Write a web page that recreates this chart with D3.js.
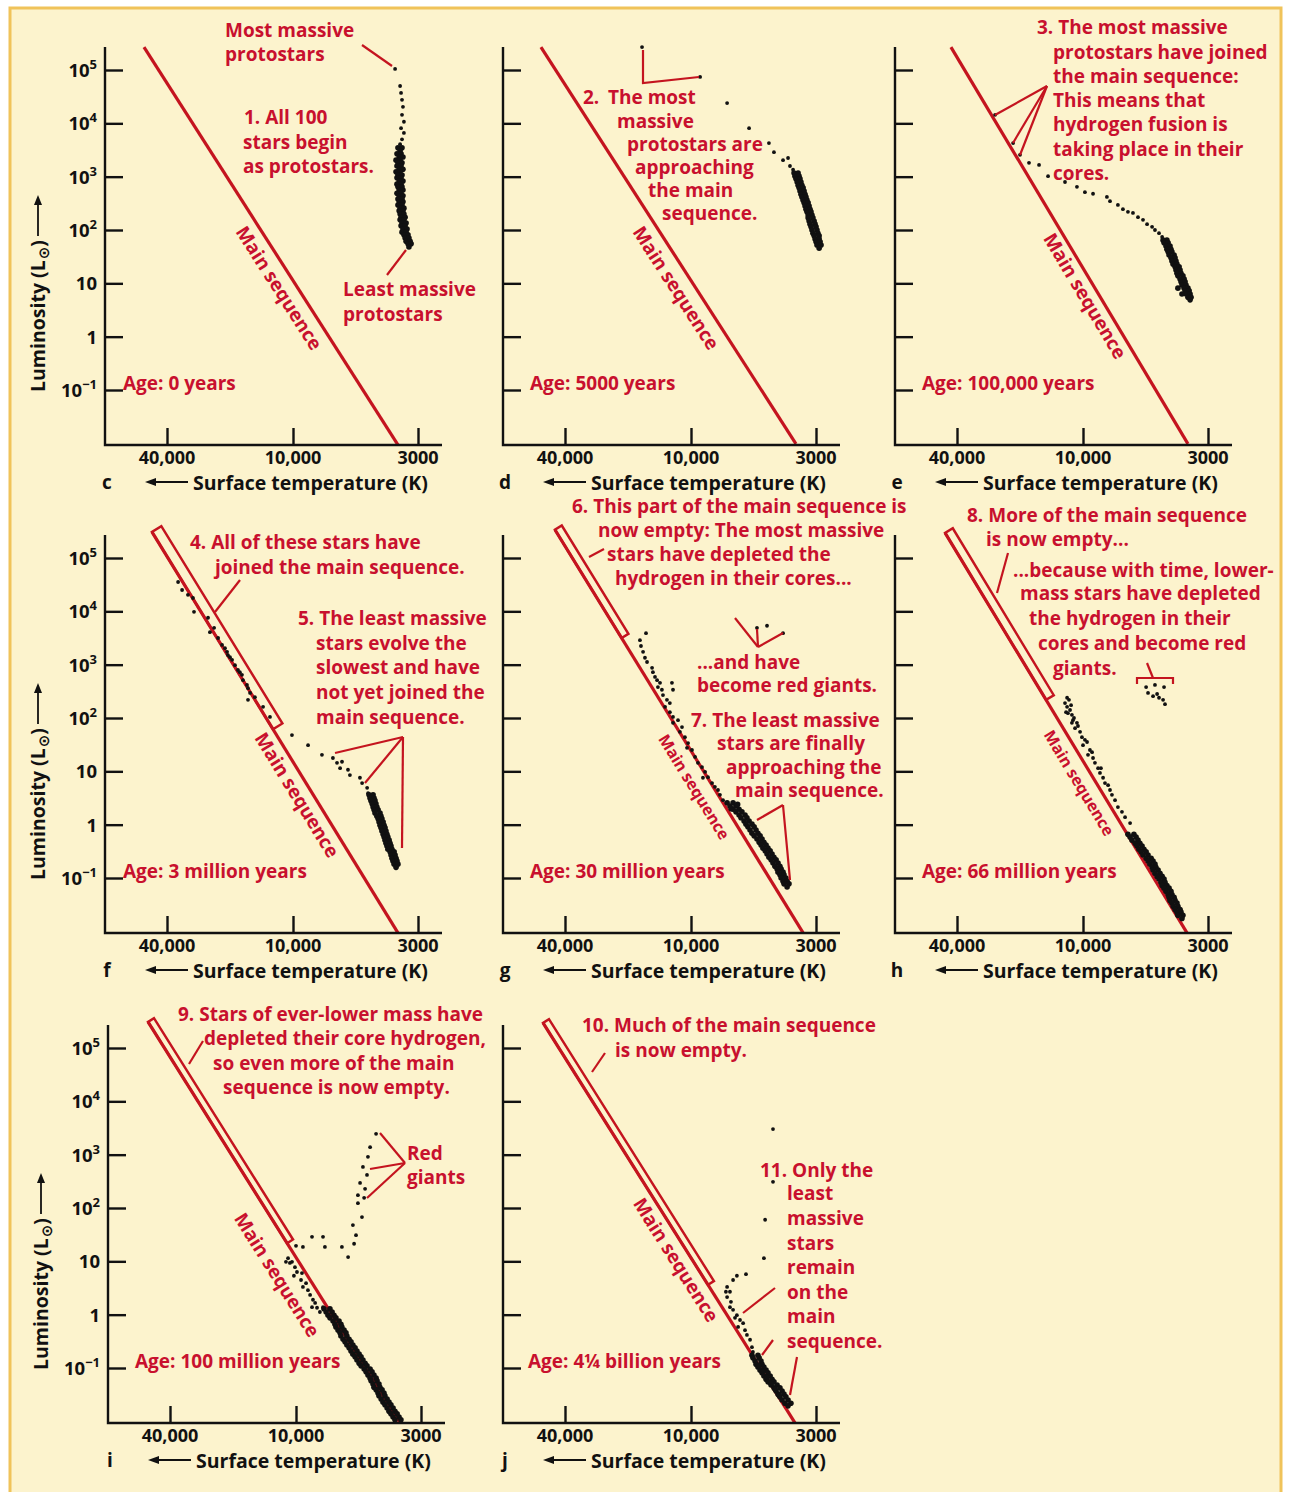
<!DOCTYPE html>
<html>
<head>
<meta charset="utf-8">
<script src="https://cdn.jsdelivr.net/npm/d3@7.9.0/dist/d3.min.js"></script>
<style>
  body { margin: 0; background: #fff; }
  svg text { font-family: "Open Sans", sans-serif; font-weight: 700; }
</style>
</head>
<body>
<svg id="chart" width="1289" height="1492"></svg>
<script>
// ---- data (log10 T in K, log10 L in solar units) ----
const tempTicks = [40000, 10000, 3000];
const tempTickLabels = ['40,000', '10,000', '3000'];
const lumTicks = [5, 4, 3, 2, 1, 0, -1];
const lumTickLabels = [['10', '5'], ['10', '4'], ['10', '3'], ['10', '2'], ['10', ''], ['1', ''], ['10', '\u22121']];
const panelLetters = ['c', 'd', 'e', 'f', 'g', 'h', 'i', 'j'];
const ages = ['Age: 0 years', 'Age: 5000 years', 'Age: 100,000 years', 'Age: 3 million years',
  'Age: 30 million years', 'Age: 66 million years', 'Age: 100 million years', 'Age: 4\u00BC billion years'];

// main sequence, top and bottom end, per panel
const mainSeqTop = [[4.712, 5.43], [4.717, 5.43], [4.631, 5.43], [4.674, 5.49], [4.650, 5.53], [4.659, 5.47], [4.707, 5.49], [4.707, 5.47]];
const mainSeqBottom = [[3.561, -2.03], [3.561, -2.01], [3.561, -2.01], [3.561, -2.03], [3.531, -2.03], [3.565, -2.03], [3.565, -2.03], [3.565, -2.03]];
// luminosity down to which the main sequence is empty (outlined band)
const bandEnd = [null, null, null, 1.79, 3.50, 2.34, 1.34, 0.56];

const starsC = [[3.573,5.02],[3.552,4.70],[3.548,4.57],[3.544,4.44],[3.540,4.31],[3.544,4.16],[3.536,4.03],[3.548,3.91],[3.536,3.82],[3.544,3.70],[3.552,3.61]];
const clusterC = [[3.561,3.54],[3.544,3.54],[3.552,3.48],[3.565,3.43],[3.548,3.43],[3.556,3.37],[3.540,3.37],[3.569,3.31],[3.552,3.31],[3.561,3.26],[3.544,3.26],[3.565,3.20],[3.548,3.20],[3.556,3.14],[3.540,3.14],[3.569,3.09],[3.552,3.09],[3.561,3.03],[3.544,3.03],[3.565,2.98],[3.548,2.98],[3.556,2.92],[3.540,2.92],[3.565,2.86],[3.548,2.86],[3.561,2.81],[3.544,2.81],[3.556,2.75],[3.540,2.75],[3.565,2.69],[3.548,2.69],[3.556,2.64],[3.540,2.64],[3.561,2.58],[3.544,2.58],[3.556,2.53],[3.540,2.53],[3.561,2.47],[3.544,2.47],[3.552,2.41],[3.536,2.41],[3.556,2.36],[3.540,2.36],[3.552,2.30],[3.536,2.30],[3.548,2.24],[3.531,2.24],[3.552,2.19],[3.536,2.19],[3.544,2.13],[3.527,2.13],[3.548,2.08],[3.531,2.08],[3.540,2.02],[3.523,2.02],[3.544,1.96],[3.527,1.96],[3.536,1.91],[3.519,1.91],[3.531,1.85],[3.515,1.85],[3.527,1.79],[3.510,1.79],[3.519,1.74],[3.506,1.74],[3.515,1.68]];

const starsD = [[4.234,5.43],[3.962,4.87],[3.849,4.38],[3.757,3.91],[3.674,3.63],[3.653,3.46],[3.615,3.31],[3.594,3.35],[3.586,3.20],[3.573,3.13]];
const clusterD = [[3.569,3.07],[3.552,3.07],[3.565,3.01],[3.548,3.01],[3.561,2.96],[3.544,2.96],[3.556,2.90],[3.540,2.90],[3.552,2.84],[3.536,2.84],[3.548,2.79],[3.531,2.79],[3.544,2.73],[3.527,2.73],[3.540,2.67],[3.523,2.67],[3.536,2.62],[3.519,2.62],[3.531,2.56],[3.515,2.56],[3.527,2.51],[3.510,2.51],[3.523,2.45],[3.506,2.45],[3.519,2.39],[3.502,2.39],[3.515,2.34],[3.498,2.34],[3.510,2.28],[3.494,2.28],[3.510,2.23],[3.490,2.23],[3.506,2.17],[3.485,2.17],[3.502,2.11],[3.481,2.11],[3.498,2.06],[3.477,2.06],[3.494,2.00],[3.473,2.00],[3.490,1.94],[3.469,1.94],[3.485,1.89],[3.464,1.89],[3.481,1.83],[3.464,1.83],[3.477,1.78],[3.460,1.78],[3.473,1.72],[3.456,1.72],[3.464,1.66]];

const starsE = [[4.420,4.16],[4.334,3.63],[4.301,3.41],[4.258,3.26],[4.210,3.22],[4.167,3.01],[4.086,2.90],[4.029,2.81],[3.992,2.71],[3.958,2.68],[3.900,2.62],[3.887,2.54],[3.854,2.47],[3.833,2.39],[3.812,2.34],[3.791,2.32],[3.770,2.24],[3.749,2.19],[3.732,2.11],[3.711,2.06],[3.699,2.00],[3.682,1.94],[3.669,1.87]];
const clusterE = [[3.665,1.81],[3.649,1.81],[3.661,1.76],[3.644,1.76],[3.653,1.70],[3.636,1.70],[3.649,1.64],[3.632,1.64],[3.644,1.59],[3.628,1.59],[3.640,1.53],[3.619,1.53],[3.632,1.48],[3.615,1.48],[3.628,1.42],[3.611,1.42],[3.623,1.36],[3.607,1.36],[3.615,1.31],[3.598,1.31],[3.611,1.25],[3.594,1.25],[3.607,1.19],[3.590,1.19],[3.603,1.14],[3.582,1.14],[3.594,1.08],[3.577,1.08],[3.590,1.03],[3.573,1.03],[3.586,0.97],[3.569,0.97],[3.577,0.91],[3.561,0.91],[3.573,0.86],[3.556,0.86],[3.569,0.80],[3.552,0.80],[3.561,0.74],[3.548,0.74],[3.552,0.69],[3.603,0.91],[3.586,0.80]];

const starsF = [[4.549,4.55],[4.530,4.40],[4.502,4.31],[4.478,4.25],[4.473,3.99],[4.406,3.88],[4.397,3.61],[4.377,3.69],[4.358,3.50],[4.339,3.37],[4.315,3.24],[4.311,3.18],[4.291,3.09],[4.277,2.99],[4.263,2.90],[4.244,2.81],[4.239,2.71],[4.220,2.62],[4.215,2.56],[4.205,2.47],[4.215,2.34],[4.182,2.39],[4.143,2.21],[4.110,2.02],[4.325,3.31],[4.301,3.14],[4.254,2.86],
  [4.005,1.68],[3.937,1.49],[3.879,1.31],[3.833,1.25],[3.816,1.16],[3.795,1.18],[3.803,1.06],[3.770,1.03],[3.762,0.93],[3.720,0.88],[3.711,0.78],[3.690,0.69],[3.686,0.59]];
const clusterF = [[3.682,0.56],[3.665,0.56],[3.678,0.50],[3.661,0.50],[3.674,0.45],[3.657,0.45],[3.669,0.39],[3.653,0.39],[3.665,0.33],[3.649,0.33],[3.661,0.28],[3.644,0.28],[3.657,0.22],[3.636,0.22],[3.649,0.16],[3.632,0.16],[3.644,0.11],[3.628,0.11],[3.640,0.05],[3.623,0.05],[3.636,-0.01],[3.619,-0.01],[3.632,-0.06],[3.615,-0.06],[3.628,-0.12],[3.611,-0.12],[3.623,-0.18],[3.607,-0.18],[3.619,-0.23],[3.603,-0.23],[3.615,-0.29],[3.598,-0.29],[3.611,-0.35],[3.594,-0.35],[3.607,-0.40],[3.590,-0.40],[3.603,-0.46],[3.586,-0.46],[3.594,-0.51],[3.577,-0.51],[3.590,-0.57],[3.573,-0.57],[3.586,-0.63],[3.569,-0.63],[3.582,-0.68],[3.565,-0.68],[3.577,-0.74],[3.561,-0.74],[3.569,-0.80]];

const starsG = [[3.724,3.69],[3.682,3.73],[3.615,3.59],
  [4.215,3.59],[4.244,3.46],[4.239,3.35],[4.229,3.24],[4.220,3.13],[4.210,3.05],[4.186,2.94],[4.182,2.86],[4.172,2.77],[4.162,2.71],[4.148,2.66],[4.158,2.58],[4.139,2.53],[4.134,2.43],[4.115,2.34],[4.101,2.28],[4.091,2.66],[4.086,2.53],[4.124,2.21],[4.101,2.11],[4.086,2.02],[4.062,1.96],[4.086,1.91],[4.043,1.83],[4.053,1.74],[4.029,1.64],[4.014,1.53],[4.019,1.44],[3.996,1.40],[3.983,1.27],[3.971,1.16],[3.954,1.08],[3.941,0.99],[3.950,0.88],[3.929,0.89],[3.912,0.78],[3.900,0.71],[3.887,0.65],[3.879,0.56],[3.866,0.46]];
const clusterG = [[3.849,0.41],[3.824,0.41],[3.837,0.35],[3.812,0.35],[3.824,0.29],[3.799,0.29],[3.812,0.24],[3.787,0.24],[3.799,0.18],[3.774,0.18],[3.791,0.13],[3.766,0.13],[3.778,0.07],[3.757,0.07],[3.770,0.01],[3.745,0.01],[3.762,-0.04],[3.736,-0.04],[3.753,-0.10],[3.728,-0.10],[3.745,-0.16],[3.720,-0.16],[3.736,-0.21],[3.711,-0.21],[3.724,-0.27],[3.703,-0.27],[3.715,-0.33],[3.695,-0.33],[3.707,-0.38],[3.686,-0.38],[3.699,-0.44],[3.678,-0.44],[3.690,-0.49],[3.669,-0.49],[3.682,-0.55],[3.661,-0.55],[3.674,-0.61],[3.653,-0.61],[3.665,-0.66],[3.644,-0.66],[3.657,-0.72],[3.636,-0.72],[3.649,-0.78],[3.628,-0.78],[3.640,-0.83],[3.623,-0.83],[3.636,-0.89],[3.615,-0.89],[3.628,-0.94],[3.611,-0.94],[3.623,-1.00],[3.603,-1.00],[3.615,-1.06],[3.598,-1.06],[3.611,-1.11],[3.590,-1.11],[3.598,-1.17],[3.832,0.30],[3.805,0.38]];

const starsH = [[3.736,2.58],[3.699,2.62],[3.661,2.58],[3.728,2.47],[3.707,2.41],[3.690,2.45],[3.682,2.38],[3.665,2.34],[3.657,2.26],
  [4.076,2.38],[4.086,2.28],[4.076,2.21],[4.062,2.15],[4.072,2.09],[4.053,2.06],[4.048,1.96],[4.053,1.91],[4.029,1.91],[4.038,1.81],[4.014,1.74],[4.005,1.64],[3.983,1.55],[4.000,1.49],[3.971,1.40],[3.979,1.31],[3.958,1.25],[3.950,1.16],[3.937,1.06],[3.929,0.97],[3.916,0.88],[3.908,0.78],[3.887,0.65],[3.879,0.56],[3.866,0.46],[3.854,0.33],[3.837,0.24],[3.824,0.14],[3.803,0.03],[4.067,2.34],[4.057,2.24],[4.081,2.11],[4.043,2.00],[4.024,1.85],[3.992,1.59],[3.962,1.36],[3.925,1.06],[3.895,0.74]];
const clusterH = [[3.812,-0.18],[3.787,-0.18],[3.803,-0.23],[3.778,-0.23],[3.795,-0.29],[3.770,-0.29],[3.782,-0.35],[3.762,-0.35],[3.774,-0.40],[3.753,-0.40],[3.766,-0.46],[3.745,-0.46],[3.757,-0.51],[3.736,-0.51],[3.749,-0.57],[3.728,-0.57],[3.736,-0.63],[3.715,-0.63],[3.728,-0.68],[3.707,-0.68],[3.720,-0.74],[3.699,-0.74],[3.711,-0.80],[3.695,-0.80],[3.707,-0.85],[3.686,-0.85],[3.699,-0.91],[3.678,-0.91],[3.690,-0.97],[3.669,-0.97],[3.682,-1.02],[3.661,-1.02],[3.674,-1.08],[3.657,-1.08],[3.669,-1.14],[3.649,-1.14],[3.661,-1.19],[3.640,-1.19],[3.653,-1.25],[3.632,-1.25],[3.644,-1.31],[3.628,-1.31],[3.640,-1.36],[3.619,-1.36],[3.636,-1.42],[3.615,-1.42],[3.628,-1.47],[3.607,-1.47],[3.623,-1.53],[3.603,-1.53],[3.615,-1.59],[3.594,-1.59],[3.607,-1.64],[3.590,-1.64],[3.603,-1.70],[3.582,-1.70],[3.586,-1.76]];

const starsI = [[3.665,3.39],[3.690,3.14],[3.699,2.96],[3.720,2.77],[3.703,2.62],[3.732,2.47],[3.711,2.36],[3.741,2.24],[3.715,2.19],[3.741,2.09],[3.724,1.83],[3.762,1.68],[3.749,1.49],[3.757,1.33],[3.782,1.08],[3.808,1.27],[3.879,1.27],[3.887,1.46],[3.933,1.46],[3.971,1.27],[4.000,1.29],
  [4.038,1.06],[4.019,0.99],[4.029,0.97],[4.005,0.89],[3.996,0.80],[3.975,0.78],[3.979,0.65],[3.971,0.52],[3.950,0.46],[3.941,0.37],[3.929,0.28],[3.920,0.22],[3.933,0.14],[3.912,0.13],[3.900,0.05],[3.887,0.14],[4.048,0.99],[4.010,0.73],[3.958,0.59]];
const clusterI = [[3.883,0.11],[3.858,0.11],[3.874,0.05],[3.849,0.05],[3.866,-0.01],[3.841,-0.01],[3.858,-0.06],[3.833,-0.06],[3.845,-0.12],[3.820,-0.12],[3.837,-0.18],[3.812,-0.18],[3.833,-0.23],[3.808,-0.23],[3.824,-0.29],[3.799,-0.29],[3.816,-0.34],[3.791,-0.34],[3.812,-0.40],[3.787,-0.40],[3.803,-0.46],[3.778,-0.46],[3.795,-0.51],[3.770,-0.51],[3.787,-0.57],[3.762,-0.57],[3.778,-0.62],[3.753,-0.62],[3.770,-0.68],[3.745,-0.68],[3.762,-0.74],[3.736,-0.74],[3.753,-0.79],[3.728,-0.79],[3.745,-0.85],[3.720,-0.85],[3.736,-0.91],[3.711,-0.91],[3.728,-0.96],[3.703,-0.96],[3.715,-1.02],[3.690,-1.02],[3.707,-1.07],[3.682,-1.07],[3.699,-1.13],[3.674,-1.13],[3.690,-1.19],[3.665,-1.19],[3.686,-1.24],[3.661,-1.24],[3.678,-1.30],[3.653,-1.30],[3.674,-1.36],[3.649,-1.36],[3.665,-1.41],[3.640,-1.41],[3.657,-1.47],[3.632,-1.47],[3.653,-1.52],[3.628,-1.52],[3.644,-1.58],[3.619,-1.58],[3.636,-1.64],[3.611,-1.64],[3.628,-1.69],[3.603,-1.69],[3.619,-1.75],[3.594,-1.75],[3.611,-1.81],[3.586,-1.81],[3.603,-1.86],[3.577,-1.86],[3.594,-1.92],[3.569,-1.92],[3.586,-1.97],[3.561,-1.97]];

const starsJ = [[3.657,3.48],[3.657,2.49],[3.690,1.78],[3.695,1.06],[3.770,0.76],[3.808,0.73],[3.824,0.65],[3.849,0.52],[3.837,0.43],[3.854,0.43],[3.849,0.33],[3.833,0.24],[3.837,0.14],[3.824,0.09],[3.808,-0.01],[3.816,-0.06],[3.795,-0.10],[3.782,-0.16],[3.803,-0.23],[3.774,-0.29],[3.766,-0.38],[3.753,-0.47],[3.745,-0.61],[3.741,-0.70]];
const clusterJ = [[3.745,-0.76],[3.720,-0.76],[3.741,-0.81],[3.715,-0.81],[3.732,-0.87],[3.707,-0.87],[3.728,-0.93],[3.703,-0.93],[3.720,-0.98],[3.695,-0.98],[3.711,-1.04],[3.686,-1.04],[3.703,-1.09],[3.678,-1.09],[3.695,-1.15],[3.669,-1.15],[3.686,-1.21],[3.661,-1.21],[3.678,-1.26],[3.653,-1.26],[3.665,-1.32],[3.640,-1.32],[3.653,-1.37],[3.628,-1.37],[3.644,-1.43],[3.619,-1.43],[3.636,-1.49],[3.611,-1.49],[3.628,-1.54],[3.603,-1.54],[3.619,-1.60],[3.594,-1.60],[3.607,-1.66],[3.582,-1.66],[3.594,-1.71],[3.716,-0.95],[3.699,-1.06],[3.682,-1.18],[3.666,-1.29],[3.648,-1.40],[3.632,-1.51]];

const stars = [starsC, starsD, starsE, starsF, starsG, starsH, starsI, starsJ];
const clusters = [clusterC, clusterD, clusterE, clusterF, clusterG, clusterH, clusterI, clusterJ];

// ---- layout ----
const RED = '#c8102e';
const LINE_RED = '#c4141f';
const layout = [
  { ox: 105, oy: 445, yLabels: true, ageDx: 18, ms: [279, 288, 19], band: 0 },
  { ox: 503, oy: 445, ageDx: 27, ms: [676, 288, 19], band: 0 },
  { ox: 895, oy: 445, ageDx: 27, ms: [1085, 296, 19], band: 0 },
  { ox: 105, oy: 933, yLabels: true, ageDx: 18, ms: [297, 795, 19], band: 11 },
  { ox: 503, oy: 933, ageDx: 27, ms: [694, 787, 16], band: 8 },
  { ox: 895, oy: 933, ageDx: 27, ms: [1079, 783, 16], band: 9 },
  { ox: 108, oy: 1423, yLabels: true, ageDx: 27, ms: [277, 1275, 19], band: 7 },
  { ox: 503, oy: 1423, ageDx: 25, ms: [676, 1260, 19], band: 7 }
];

const notes = [
  [225, 30, 'Most massive'], [225, 54, 'protostars'],
  [244, 117, '1. All 100'], [243, 142, 'stars begin'], [243, 166, 'as protostars.'],
  [343, 289, 'Least massive'], [343, 314, 'protostars'],
  [583, 97, '2.'], [608, 97, 'The most'], [617, 121, 'massive'], [627, 144, 'protostars are'], [635, 167, 'approaching'], [648, 190, 'the main'], [662, 213, 'sequence.'],
  [1037, 27, '3. The most massive'], [1053, 52, 'protostars have joined'], [1053, 76, 'the main sequence:'], [1053, 100, 'This means that'], [1053, 124, 'hydrogen fusion is'], [1053, 149, 'taking place in their'], [1053, 173, 'cores.'],
  [190, 542, '4. All of these stars have'], [215, 567, 'joined the main sequence.'],
  [298, 618, '5. The least massive'], [316, 643, 'stars evolve the'], [316, 667, 'slowest and have'], [316, 692, 'not yet joined the'], [316, 717, 'main sequence.'],
  [572, 506, '6. This part of the main sequence is'], [598, 530, 'now empty: The most massive'], [607, 554, 'stars have depleted the'], [615, 578, 'hydrogen in their cores...'],
  [697, 662, '...and have'], [697, 685, 'become red giants.'],
  [691, 720, '7. The least massive'], [717, 743, 'stars are finally'], [726, 767, 'approaching the'], [735, 790, 'main sequence.'],
  [967, 515, '8. More of the main sequence'], [986, 539, 'is now empty...'], [1013, 570, '...because with time, lower-'], [1020, 593, 'mass stars have depleted'], [1029, 618, 'the hydrogen in their'], [1038, 643, 'cores and become red'], [1053, 668, 'giants.'],
  [178, 1014, '9. Stars of ever-lower mass have'], [204, 1038, 'depleted their core hydrogen,'], [213, 1063, 'so even more of the main'], [223, 1087, 'sequence is now empty.'],
  [407, 1153, 'Red'], [407, 1177, 'giants'],
  [582, 1025, '10. Much of the main sequence'], [615, 1050, 'is now empty.'],
  [760, 1170, '11. Only the'], [787, 1193, 'least'], [787, 1218, 'massive'], [787, 1243, 'stars'], [787, 1267, 'remain'], [787, 1292, 'on the'], [787, 1316, 'main'], [787, 1341, 'sequence.']
];

const leaders = [
  [[362, 45], [392, 66]], [[406, 250], [387, 275]],
  [[643, 50], [643, 83], [699, 77]],
  [[1047, 86], [995, 115]], [[1047, 86], [1013, 143]], [[1047, 86], [1020, 155]],
  [[240, 580], [215, 612]], [[403, 737], [335, 753]], [[403, 737], [365, 783]], [[403, 737], [402, 848]],
  [[589, 557], [604, 549]],
  [[758, 647], [735, 618]], [[758, 647], [757, 629]], [[758, 647], [783, 633]],
  [[783, 805], [757, 820]], [[783, 805], [790, 880]],
  [[1008, 553], [997, 593]], [[1147, 663], [1153, 678]], [[1137, 684], [1137, 678], [1173, 678], [1173, 684]],
  [[203, 1041], [189, 1064]], [[405, 1163], [380, 1133]], [[405, 1163], [370, 1169]], [[405, 1163], [367, 1198]],
  [[605, 1053], [592, 1072]], [[775, 1288], [743, 1313]], [[773, 1340], [762, 1355]], [[797, 1357], [790, 1395]]
];

// ---- drawing ----
const svg = d3.select('#chart');
svg.append('rect').attr('width', 1289).attr('height', 1492).attr('fill', '#fff');
svg.append('rect').attr('x', 10).attr('y', 8).attr('width', 1271).attr('height', 1500)
  .attr('fill', '#fcf3cd').attr('stroke', '#f0c35a').attr('stroke-width', 3);

const x = d3.scaleLog().domain(tempTicks).range([62, 188, 313]);
const y = d3.scaleLog().domain([0.1, 1e5]).range([-55, -375]);
const px = d => x(10 ** d[0]);
const py = d => y(10 ** d[1]);
const yTop = y(10 ** 5.43);

layout.forEach((p, i) => {
  const g = svg.append('g').attr('transform', `translate(${p.ox},${p.oy})`);

  // main sequence line
  const P0 = [px(mainSeqTop[i]), py(mainSeqTop[i])];
  const P1 = [px(mainSeqBottom[i]), py(mainSeqBottom[i])];
  g.append('line')
    .attr('x1', P0[0]).attr('y1', P0[1]).attr('x2', P1[0]).attr('y2', P1[1])
    .attr('stroke', LINE_RED).attr('stroke-width', 3.2);

  // empty part of the main sequence
  if (bandEnd[i] != null) {
    const ye = y(10 ** bandEnd[i]);
    const t = (ye - P0[1]) / (P1[1] - P0[1]);
    const Pe = [P0[0] + t * (P1[0] - P0[0]), ye];
    const len = Math.hypot(P1[0] - P0[0], P1[1] - P0[1]);
    const n = [(P1[1] - P0[1]) / len * p.band, -(P1[0] - P0[0]) / len * p.band];
    g.append('path')
      .attr('d', `M${P0[0]},${P0[1]}L${Pe[0]},${Pe[1]}L${Pe[0] + n[0]},${Pe[1] + n[1]}L${P0[0] + n[0]},${P0[1] + n[1]}Z`)
      .attr('fill', 'none').attr('stroke', LINE_RED).attr('stroke-width', 2.5);
  }

  // main sequence label
  const ang = Math.atan2(P1[1] - P0[1], P1[0] - P0[0]) * 180 / Math.PI;
  g.append('text')
    .attr('transform', `translate(${p.ms[0] - p.ox},${p.ms[1] - p.oy}) rotate(${ang})`)
    .attr('text-anchor', 'middle').attr('dy', '0.35em')
    .attr('font-size', p.ms[2]).attr('fill', RED)
    .text('Main sequence');

  // axes
  g.append('path').attr('d', `M0,${yTop}V0H337`).attr('fill', 'none').attr('stroke', '#111').attr('stroke-width', 2.4);
  const ya = g.append('g').call(d3.axisRight(y).tickValues(lumTicks.map(v => 10 ** v)).tickSize(18).tickFormat(''));
  const xa = g.append('g').call(d3.axisTop(x).tickValues(tempTicks).tickSize(17).tickFormat(''));
  [ya, xa].forEach(a => {
    a.select('.domain').remove();
    a.selectAll('line').attr('stroke', '#111').attr('stroke-width', 2.4);
  });

  // tick labels
  g.selectAll('text.xl').data(tempTicks).join('text').attr('class', 'xl')
    .attr('x', d => x(d)).attr('y', 19).attr('text-anchor', 'middle')
    .attr('font-size', 18).attr('fill', '#111')
    .text((d, k) => tempTickLabels[k]);

  if (p.yLabels) {
    lumTicks.forEach((v, k) => {
      const tx = g.append('text').attr('x', -8).attr('y', y(10 ** v) + 7)
        .attr('text-anchor', 'end').attr('font-size', 18.5).attr('fill', '#111');
      tx.append('tspan').text(lumTickLabels[k][0]);
      if (lumTickLabels[k][1]) tx.append('tspan').attr('dy', -8).attr('font-size', 13).text(lumTickLabels[k][1]);
    });
    const yt = g.append('g').attr('transform', `translate(-60,-53) rotate(-90)`);
    const tt = yt.append('text').attr('font-size', 19.5).attr('fill', '#111');
    tt.append('tspan').text('Luminosity (L');
    tt.append('tspan').attr('dy', 4).attr('dx', 1).attr('font-size', 15).attr('font-family', 'DejaVu Sans').text('\u2299');
    tt.append('tspan').attr('dy', -4).text(')');
    const L = tt.node().getComputedTextLength();
    yt.append('line').attr('x1', L + 5).attr('x2', L + 38).attr('y1', -7).attr('y2', -7)
      .attr('stroke', '#111').attr('stroke-width', 1.8);
    yt.append('path').attr('d', `M${L + 46},-7L${L + 36},-11L${L + 36},-3Z`).attr('fill', '#111');
  }

  // x axis title
  g.append('text').attr('x', 2).attr('y', 44).attr('text-anchor', 'middle')
    .attr('font-size', 19).attr('fill', '#111').text(panelLetters[i]);
  g.append('line').attr('x1', 50).attr('x2', 83).attr('y1', 37).attr('y2', 37)
    .attr('stroke', '#111').attr('stroke-width', 1.8);
  g.append('path').attr('d', 'M40,37L51,33L51,41Z').attr('fill', '#111');
  g.append('text').attr('x', 88).attr('y', 44.5).attr('font-size', 19.5).attr('fill', '#111')
    .text('Surface temperature (K)');

  // age
  g.append('text').attr('x', p.ageDx).attr('y', -55).attr('font-size', 19).attr('fill', RED).text(ages[i]);

  // stars
  g.selectAll('circle.cl').data(clusters[i]).join('circle').attr('class', 'cl')
    .attr('cx', px).attr('cy', py).attr('r', 2.8).attr('fill', '#111');
  g.selectAll('circle.st').data(stars[i]).join('circle').attr('class', 'st')
    .attr('cx', px).attr('cy', py).attr('r', 1.9).attr('fill', '#111');
});

// annotations
svg.append('g').selectAll('path').data(leaders).join('path')
  .attr('d', d => d3.line()(d)).attr('fill', 'none').attr('stroke', LINE_RED).attr('stroke-width', 2.2);
svg.append('g').selectAll('text').data(notes).join('text')
  .attr('x', d => d[0]).attr('y', d => d[1] + 7)
  .attr('font-size', 19).attr('fill', RED)
  .text(d => d[2]);
</script>
</body>
</html>
